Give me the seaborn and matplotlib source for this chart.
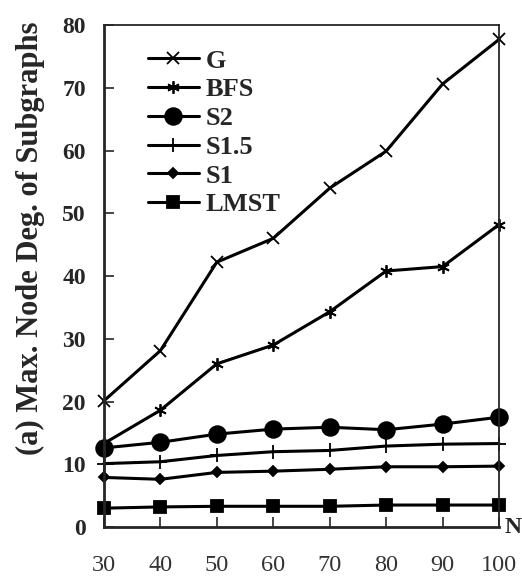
import matplotlib
matplotlib.use("Agg")
import matplotlib.pyplot as plt
import seaborn as sns
import pandas as pd

N = [30, 40, 50, 60, 70, 80, 90, 100]
G = [20.1, 28.1, 42.2, 46.0, 54.0, 59.9, 70.6, 77.7]
BFS = [13.3, 18.6, 26.0, 29.0, 34.3, 40.8, 41.5, 48.2]
S2 = [12.6, 13.5, 14.8, 15.6, 15.9, 15.5, 16.4, 17.5]
S15 = [10.1, 10.4, 11.4, 12.0, 12.2, 12.9, 13.2, 13.3]
S1 = [7.9, 7.6, 8.7, 8.9, 9.2, 9.6, 9.6, 9.7]
LMST = [3.0, 3.2, 3.3, 3.3, 3.3, 3.5, 3.5, 3.5]

series = {"G": G, "BFS": BFS, "S2": S2, "S1.5": S15, "S1": S1, "LMST": LMST}
markers = {"G": "x", "BFS": (6, 2, 0), "S2": "o", "S1.5": "+", "S1": "D", "LMST": "s"}
msizes = {"G": 9, "BFS": 9, "S2": 12, "S1.5": 10, "S1": 5, "LMST": 9}

rows = []
for name, vals in series.items():
    for n, v in zip(N, vals):
        rows.append({"N": n, "value": v, "series": name})
df = pd.DataFrame(rows)

sns.set_style("ticks")
plt.rcParams["font.family"] = ["Liberation Serif", "DejaVu Serif"]

fig = plt.figure(figsize=(5.22, 5.82), dpi=100)
ax = fig.add_axes([0.199, 0.0945, 0.757, 0.8625])

for name in series:
    sub = df[df["series"] == name]
    sns.lineplot(data=sub, x="N", y="value", ax=ax, color="black", linewidth=2.2,
                 marker=markers[name], markersize=msizes[name], markeredgewidth=1.3,
                 markeredgecolor="black", markerfacecolor="black",
                 label=name, clip_on=False)

ax.set_xlim(30, 100)
ax.set_ylim(0, 80)
ax.set_xticks(N)
ax.set_yticks(range(0, 81, 10))
ax.tick_params(axis="x", direction="in", length=7, width=1.2, pad=20, labelsize=17.5,
               labelcolor="#333333")
ax.tick_params(axis="y", direction="in", length=7, width=1.2, pad=13, labelsize=17)
for lab in ax.get_yticklabels():
    lab.set_fontweight("bold")
for side in ["left", "bottom"]:
    ax.spines[side].set_linewidth(2)
for side in ["top", "right"]:
    ax.spines[side].set_linewidth(1.3)
    ax.spines[side].set_visible(True)

ax.set_xlabel("")
ax.set_ylabel("")
fig.text(30 / 522, 1 - 238 / 582, "(a) Max. Node Deg. of Subgraphs", rotation=90,
         fontsize=22, fontweight="bold", ha="center", va="center")
ax.annotate("N", xy=(1, 0), xycoords="axes fraction", xytext=(4, 0),
            textcoords="offset points", fontsize=17, fontweight="bold", ha="left", va="center")

leg = ax.legend(loc="upper left", bbox_to_anchor=(0.111, 0.952), frameon=False,
                prop={"weight": "bold", "size": 19}, handlelength=1.95,
                handletextpad=0.25, labelspacing=0.2, borderaxespad=0, borderpad=0)

fig.savefig("out.png", dpi=100)
